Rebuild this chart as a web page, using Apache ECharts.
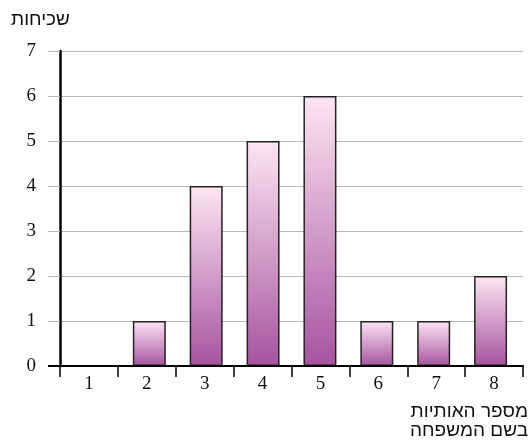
<!DOCTYPE html>
<html>
<head>
<meta charset="utf-8">
<script src="https://cdn.jsdelivr.net/npm/echarts@6/dist/echarts.min.js"></script>
<style>
  html, body { margin: 0; padding: 0; background: #fff; }
  #chart { width: 531px; height: 441px; }
</style>
</head>
<body>
<div id="chart"></div>
<script>
// Letters in family name vs. frequency
const categories = ['1', '2', '3', '4', '5', '6', '7', '8'];
const frequencies = [0, 1, 4, 5, 6, 1, 1, 2];
const yTicks = { min: 0, max: 7, interval: 1 };
const yName = 'שכיחות';
const xNameLines = ['מספר האותיות', 'בשם המשפחה'];

const chart = echarts.init(document.getElementById('chart'), null, { renderer: 'canvas' });

const gridLeft = 60;
const gridTop = 51;
const gridBottom = 75;
const serif = '"Liberation Serif", "Times New Roman", serif';
const sans = '"Liberation Sans", Arial, sans-serif';

chart.setOption({
  animation: false,
  backgroundColor: '#ffffff',
  grid: [
    // axes frame
    { left: gridLeft, right: 8, top: gridTop, bottom: gridBottom, containLabel: false },
    // bar band, slightly narrower than the axis band
    { left: 64, right: 12, top: gridTop, bottom: gridBottom, containLabel: false }
  ],
  xAxis: [
    {
      gridIndex: 0,
      type: 'category',
      data: categories,
      boundaryGap: true,
      z: 10,
      axisLine: { show: true, lineStyle: { color: '#000', width: 2 } },
      axisTick: { show: true, alignWithLabel: false, inside: false, length: 11, lineStyle: { color: '#000', width: 1.5 } },
      axisLabel: { fontFamily: serif, fontSize: 19, color: '#111', margin: 9 },
      splitLine: { show: false }
    },
    {
      gridIndex: 1,
      type: 'category',
      data: categories,
      boundaryGap: true,
      show: false
    }
  ],
  yAxis: [
    {
      gridIndex: 0,
      type: 'value',
      min: yTicks.min, max: yTicks.max, interval: yTicks.interval,
      axisLine: { show: true, lineStyle: { color: '#000', width: 2.5 } },
      axisTick: { show: true, inside: false, length: 12, lineStyle: { color: '#b8b8b8', width: 1 } },
      axisLabel: { fontFamily: serif, fontSize: 19, color: '#111', margin: 24 },
      splitLine: { show: true, lineStyle: { color: '#b8b8b8', width: 1 } }
    },
    {
      gridIndex: 1,
      type: 'value',
      min: yTicks.min, max: yTicks.max, interval: yTicks.interval,
      show: false
    }
  ],
  series: [
    // empty series keeps the axis frame grid drawn
    { type: 'bar', xAxisIndex: 0, yAxisIndex: 0, data: [] },
    {
      type: 'bar',
      xAxisIndex: 1,
      yAxisIndex: 1,
      data: frequencies.map(v => v === 0
        ? { value: v, itemStyle: { borderWidth: 0, opacity: 0 } }
        : v),
      barWidth: '58%',
      itemStyle: {
        color: new echarts.graphic.LinearGradient(0, 0, 0, 1, [
          { offset: 0, color: '#fde6f1' },
          { offset: 1, color: '#a653a0' }
        ]),
        borderColor: '#222',
        borderWidth: 1.5
      },
      z: 3
    }
  ]
});

// black stub of the zero line to the left of the value axis, plus axis titles
const zeroY = chart.convertToPixel({ yAxisIndex: 0 }, 0);
const W = chart.getWidth();
chart.setOption({
  graphic: [
    {
      type: 'line',
      shape: { x1: gridLeft - 12, y1: zeroY, x2: gridLeft, y2: zeroY },
      style: { stroke: '#000', lineWidth: 2 },
      z: 100
    },
    {
      type: 'text',
      left: 11, top: 10,
      style: { text: yName, font: '19px ' + sans, fill: '#111' }
    },
    {
      type: 'text',
      x: W - 3, y: 402,
      style: { text: xNameLines[0], font: '19px ' + sans, fill: '#111', textAlign: 'right', textVerticalAlign: 'top' }
    },
    {
      type: 'text',
      x: W - 3, y: 421,
      style: { text: xNameLines[1], font: '19px ' + sans, fill: '#111', textAlign: 'right', textVerticalAlign: 'top' }
    }
  ]
});
</script>
</body>
</html>
